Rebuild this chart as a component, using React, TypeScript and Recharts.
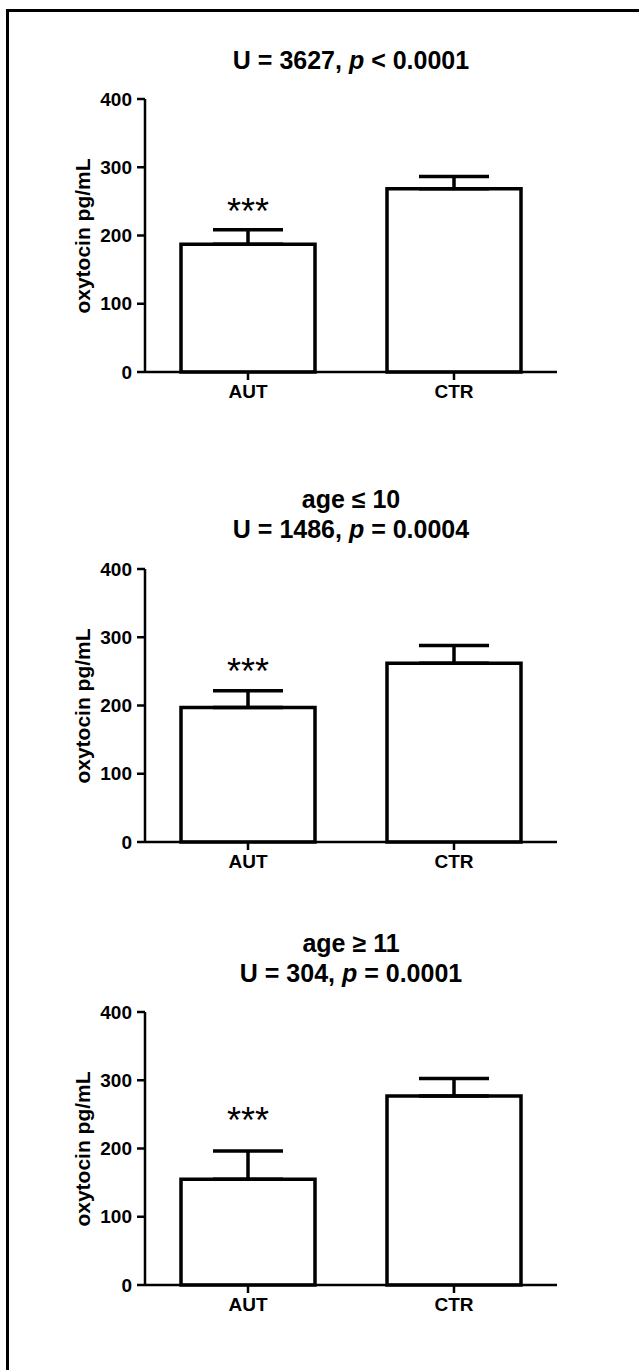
import { BarChart, Bar, XAxis, YAxis, ErrorBar, ReferenceDot } from "recharts"

const groups = ["AUT", "CTR"]
const yTicks = [0, 100, 200, 300, 400]

const allMean = [187, 268.6]
const allSem = [21.5, 18]
const youngMean = [197, 262]
const youngSem = [24.5, 26]
const olderMean = [155, 277]
const olderSem = [41.5, 25.5]

// where the *** sits above the AUT bar, in pg/mL
const allStars = 247
const youngStars = 262
const olderStars = 253

const font = '"Liberation Sans", Arial, sans-serif'

const toRows = (mean: number[], sem: number[]) =>
  groups.map((g, i) => ({ name: g, value: mean[i], err: [0, sem[i]] }))

const Stars = (props: any) => (
  <text x={props.cx} y={props.cy} dy="0.57em" textAnchor="middle" fontSize={36} fontFamily={font} fill="#000">
    ***
  </text>
)

type PanelProps = {
  plotTop: number
  titleCenter: number
  title: React.ReactNode[]
  mean: number[]
  sem: number[]
  stars: number
}

const Panel = ({ plotTop, titleCenter, title, mean, sem, stars }: PanelProps) => {
  const data = toRows(mean, sem)
  return (
    <>
      <div
        style={{
          position: "absolute",
          left: 0,
          top: titleCenter - 15,
          width: 702,
          textAlign: "center",
          fontFamily: font,
          fontWeight: "bold",
          fontSize: 25,
          lineHeight: "30px",
        }}
      >
        {title.map((t, i) => (
          <div key={i}>{t}</div>
        ))}
      </div>
      <div
        style={{
          position: "absolute",
          left: 83,
          top: plotTop + 137,
          transform: "translate(-50%, -50%) rotate(-90deg)",
          whiteSpace: "nowrap",
          fontFamily: font,
          fontWeight: "bold",
          fontSize: 21,
        }}
      >
        oxytocin pg/mL
      </div>
      <div style={{ position: "absolute", left: 0, top: plotTop - 60 }}>
        <BarChart width={600} height={383} data={data} margin={{ top: 60, right: 43, bottom: 10, left: 0 }}>
          <XAxis
            dataKey="name"
            height={40}
            stroke="#000"
            strokeWidth={2.5}
            tickSize={8}
            tickMargin={5}
            tick={{ fill: "#000", fontSize: 19, fontWeight: "bold", fontFamily: font }}
          />
          <YAxis
            width={145}
            domain={[0, 400]}
            ticks={yTicks}
            interval={0}
            stroke="#000"
            strokeWidth={2.5}
            tickSize={8}
            tickMargin={5}
            tick={{ fill: "#000", fontSize: 19, fontWeight: "bold", fontFamily: font }}
          />
          <Bar dataKey="value" fill="#fff" stroke="#000" strokeWidth={3.5} barSize={134} isAnimationActive={false}>
            <ErrorBar dataKey="err" width={35} stroke="#000" strokeWidth={3.5} isAnimationActive={false} />
          </Bar>
          <ReferenceDot x="AUT" y={stars} shape={Stars} />
        </BarChart>
      </div>
    </>
  )
}

export default function App() {
  return (
    <div
      style={{
        position: "fixed",
        left: 6,
        top: 9,
        right: 0,
        bottom: 0,
        borderTop: "3px solid #000",
        borderLeft: "3px solid #000",
        overflow: "hidden",
        background: "#fff",
      }}
    >
      <div style={{ position: "absolute", left: -9, top: -12 }}>
        <Panel
          plotTop={99.3}
          titleCenter={60}
          title={[<>U = 3627, <i>p</i> &lt; 0.0001</>]}
          mean={allMean}
          sem={allSem}
          stars={allStars}
        />
        <Panel
          plotTop={569}
          titleCenter={499.3}
          title={["age ≤ 10", <>U = 1486, <i>p</i> = 0.0004</>]}
          mean={youngMean}
          sem={youngSem}
          stars={youngStars}
        />
        <Panel
          plotTop={1011.7}
          titleCenter={943.3}
          title={["age ≥ 11", <>U = 304, <i>p</i> = 0.0001</>]}
          mean={olderMean}
          sem={olderSem}
          stars={olderStars}
        />
      </div>
    </div>
  )
}
